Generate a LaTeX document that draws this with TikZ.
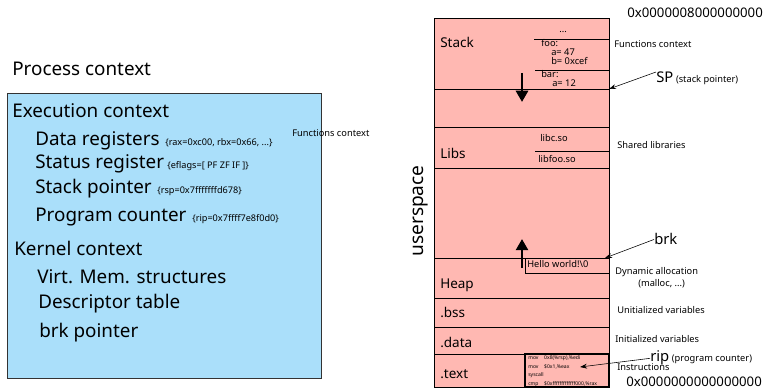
\documentclass[tikz,border=0pt]{standalone}
\usepackage{fontspec}
\setmainfont{Noto Sans}
\usetikzlibrary{arrows.meta,positioning}

\definecolor{ctxblue}{RGB}{170,223,250}
\definecolor{segpink}{RGB}{255,184,178}

\tikzset{
    lbl/.style={anchor=base west,inner sep=0pt,font=\fontsize{13.4}{15}\selectfont},
    seglbl/.style={anchor=base west,inner sep=0pt,font=\fontsize{9.6}{11}\selectfont},
    note/.style={anchor=base west,inner sep=0pt,font=\fontsize{6.6}{8}\selectfont},
    regval/.style={anchor=base west,inner sep=0pt,font=\fontsize{6.5}{7}\selectfont},
    asm/.style={anchor=base west,inner sep=0pt,font=\fontsize{3.6}{4}\selectfont},
    addr/.style={anchor=base west,inner sep=0pt,font=\fontsize{9.4}{11}\selectfont},
    ptrlbl/.style={anchor=base west,inner sep=0pt,font=\fontsize{10.5}{12}\selectfont},
    ptr/.style={-{Stealth[length=5pt,width=3.5pt]},thin},
    growth/.style={-{Triangle[length=8pt,width=8.5pt]},line width=2pt},
}

\begin{document}
\begin{tikzpicture}[x=0.025cm,y=-0.025cm]
    \useasboundingbox (0,0) rectangle (769,392);

    % process context
    \node (proc) at (12,76) [lbl] {Process context};
    \draw[draw=black!80,fill=ctxblue] (7,93) rectangle (321,378);
    \node (exec) at (12,118) [lbl] {Execution context};
    \node (datareg) at (35,146) [lbl] {Data registers};
    \node (dataval) at (165,146) [regval] {\{rax=0xc00, rbx=0x66, ...\}};
    \node (statreg) at (35,169) [lbl] {Status register};
    \node (statval) at (167,169) [regval] {\{eflags=[ PF ZF IF ]\}};
    \node (stackptr) at (35,194) [lbl] {Stack pointer};
    \node (stackval) at (157,194) [regval] {\{rsp=0x7fffffffd678\}};
    \node (progcnt) at (35,222) [lbl] {Program counter};
    \node (progval) at (192,222) [regval] {\{rip=0x7ffff7e8f0d0\}};
    \node (kern) at (14,256) [lbl] {Kernel context};
    \node (virtmem) at (37,284) [lbl] {Virt. Mem. structures};
    \node (desctab) at (38,309) [lbl] {Descriptor table};
    \node (brkptr) at (39,338) [lbl] {brk pointer};
    \node (funcleft) at (292,137) [note] {Functions context};

    % address space
    \node (userspace) at (421,211) [rotate=90,inner sep=0pt,font=\fontsize{13.6}{16}\selectfont] {userspace};
    \draw[fill=segpink] (434,18) rectangle (609,387);
    \draw
        (434,89) -- (609,89)
        (434,127) -- (609,127)
        (434,168) -- (609,168)
        (434,258) -- (609,258)
        (434,298) -- (609,298)
        (434,327) -- (609,327)
        (434,354) -- (609,354)
        (534,39) -- (609,39)
        (535,70) -- (609,70)
        (535,151) -- (609,151)
    ;
    \draw (525,258) rectangle (609,273);
    \draw[line width=0.9pt] (525,354) rectangle (609,387);

    \node (stack) at (440,48) [seglbl] {Stack};
    \node (libs) at (440,159) [seglbl] {Libs};
    \node (heap) at (440,289) [seglbl] {Heap};
    \node (bss) at (440,318) [seglbl] {.bss};
    \node (data) at (440,348) [seglbl] {.data};
    \node (text) at (440,378) [seglbl] {.text};

    % stack frames
    \node (dots) at (563,33) [note,anchor=base] {...};
    \node (foo) at (541,47) [note] {foo:};
    \node (fooa) at (551,56) [note] {a= 47};
    \node (foob) at (551,65) [note] {b= 0xcef};
    \node (bar) at (541,78) [note] {bar:};
    \node (bara) at (552,87) [note] {a= 12};

    \node (libc) at (540,142) [note] {libc.so};
    \node (libfoo) at (538,163) [note] {libfoo.so};
    \node (hello) at (527,268) [note] {Hello world!\textbackslash 0};

    \begin{scope}
        \clip (525,354) rectangle (609,387);
        \node (ins1) at (528,360) [asm] {mov\hspace{4pt}0x8(\%rsp),\%edi};
        \node (ins2) at (528,369) [asm] {mov\hspace{4pt}\$0x1,\%eax};
        \node (ins3) at (528,377) [asm] {syscall};
        \node (ins4) at (528,386) [asm] {cmp\hspace{4pt}\$0xfffffffffffff000,\%rax};
    \end{scope}

    \coordinate (stacktop) at (522,73);
    \coordinate (stacktip) at (522,102);
    \coordinate (heapbot) at (522,268);
    \coordinate (heaptip) at (522,239);
    \draw[growth] (stacktop) -- (stacktip);
    \draw[growth] (heapbot) -- (heaptip);

    % right side labels
    \node (addrtop) at (627,18) [addr] {0x0000008000000000};
    \node (funcright) at (614,48) [note] {Functions context};
    \node (sp) at (656,83) [ptrlbl] {SP};
    \node (sppar) [note,right=1.5pt of sp.base east,anchor=base west] {(stack pointer)};
    \node (shlib) at (617,149) [note] {Shared libraries};
    \node (brk) at (654,245) [ptrlbl] {brk};
    \node (dynalloc) at (615,275) [note] {Dynamic allocation};
    \node (malloc) at (638,287) [note] {(malloc, ...)};
    \node (uninit) at (617,314) [note] {Unitialized variables};
    \node (init) at (615,343) [note] {Initialized variables};
    \node (rip) at (650,362) [ptrlbl] {rip};
    \node (rippar) [note,right=1.5pt of rip.base east,anchor=base west] {(program counter)};
    \node (instr) at (617,371) [note] {Instructions};
    \node (addrbot) at (626,387) [addr] {0x0000000000000000};

    \coordinate (spend) at (609,89);
    \coordinate (brkend) at (605,258);
    \coordinate (ripend) at (580,367);
    \draw[ptr] (sp.north west) -- (spend);
    \draw[ptr] (brk.west) -- (brkend);
    \draw[ptr] (rip.west) -- (ripend);
\end{tikzpicture}
\end{document}
